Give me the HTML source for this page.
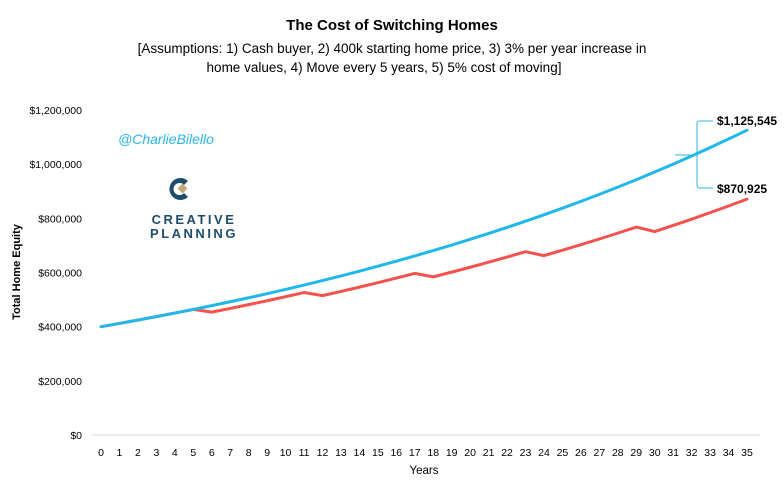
<!DOCTYPE html>
<html><head><meta charset="utf-8"><style>
body{margin:0;background:#fff;width:784px;height:481px;overflow:hidden;font-family:"Liberation Sans",sans-serif}
</style></head><body>
<svg id="chart" width="784" height="481" xmlns="http://www.w3.org/2000/svg">
<text x="392" y="30" text-anchor="middle" font-size="15" font-weight="bold" fill="#000">The Cost of Switching Homes</text>
<text x="392" y="53" text-anchor="middle" font-size="13.5" fill="#000">[Assumptions: 1) Cash buyer, 2) 400k starting home price, 3) 3% per year increase in</text>
<text x="384" y="72" text-anchor="middle" font-size="13.5" fill="#000">home values, 4) Move every 5 years, 5) 5% cost of moving]</text>
<text transform="translate(20,272) rotate(-90)" text-anchor="middle" font-size="11" font-weight="bold">Total Home Equity</text>
<text x="424" y="474" text-anchor="middle" font-size="11.5">Years</text>
<text x="118" y="144" font-size="14" font-style="italic" fill="#29b6e8">@CharlieBilello</text>
<g>
<path d="M188,181 A11,11 0 1 0 188,197 L184,193 A6,6 0 1 1 184,185 Z" fill="#1e4d6b"/>
<rect x="179" y="185" width="7" height="7" fill="#c4a97c" transform="rotate(45 182.5 188.5)"/>
<text x="194" y="224" text-anchor="middle" font-size="13" font-weight="bold" fill="#1e4d6b" letter-spacing="2.5">CREATIVE</text>
<text x="194" y="238" text-anchor="middle" font-size="13" font-weight="bold" fill="#1e4d6b" letter-spacing="2.5">PLANNING</text>
</g>
<g id="yaxis"></g><g id="xaxis"></g><g id="series"></g>
<path d="M713,121 L700,121 Q697,121 697,124 L697,185 Q697,188 700,188 L713,188 M697,155 L675,155" stroke="#29b6e8" stroke-width="1" fill="none"/>
<text x="717" y="125" font-size="12" font-weight="bold">$1,125,545</text>
<text x="717" y="193" font-size="12" font-weight="bold">$870,925</text>
</svg>
<script>
const years=[0,1,2,3,4,5,6,7,8,9,10,11,12,13,14,15,16,17,18,19,20,21,22,23,24,25,26,27,28,29,30,31,32,33,34,35];
const stayValues=[400,412,424.4,437.1,450.2,463.7,477.6,492.0,506.7,521.9,537.6,553.7,570.3,587.4,605.0,623.2,641.9,661.1,681.0,701.4,722.4,744.1,766.4,789.4,813.1,837.5,862.6,888.5,915.2,942.6,970.9,1000.0,1030.0,1061.0,1092.8,1125.5];
const moveValues=[400,412,424.4,437.1,450.2,463.7,453.7,467.4,481.4,495.8,510.7,526.0,514.7,530.1,546.0,562.4,579.3,596.7,583.9,601.4,619.4,638.0,657.1,676.8,662.3,682.2,702.6,723.7,745.4,767.8,751.3,773.8,797.0,821.0,845.6,870.9];
const yTicks=[0,200,400,600,800,1000,1200];
const yTickLabels=["$0","$200,000","$400,000","$600,000","$800,000","$1,000,000","$1,200,000"];
const NS="http://www.w3.org/2000/svg";
const x=i=>101+i*(747-101)/35;
const y=v=>435-v*(325/1200);
function mk(t,a,p){const e=document.createElementNS(NS,t);for(const k in a)e.setAttribute(k,a[k]);p.appendChild(e);return e;}
const ya=document.getElementById('yaxis');
yTicks.forEach((v,i)=>{const t=mk('text',{x:82,y:y(v)+4,'text-anchor':'end','font-size':'10.5'},ya);t.textContent=yTickLabels[i];

});
const xa=document.getElementById('xaxis');
const ax=mk('line',{x1:92,x2:760,y1:435,y2:435,stroke:'#d9d9d9'},xa);


years.forEach((yr,i)=>{const t=mk('text',{x:x(i),y:456,'text-anchor':'middle','font-size':'10.5'},xa);t.textContent=yr;

});
const s=document.getElementById('series');
function line(vals,color,name){const p=mk('polyline',{points:vals.map((v,i)=>x(i)+','+y(v)).join(' '),fill:'none',stroke:color,'stroke-width':3,'stroke-linejoin':'round','stroke-linecap':'round'},s);

}
line(moveValues,'#f4524d','series-move-every-5-years');
line(stayValues,'#1fb8ea','series-stay-put');
</script>
</body></html>
